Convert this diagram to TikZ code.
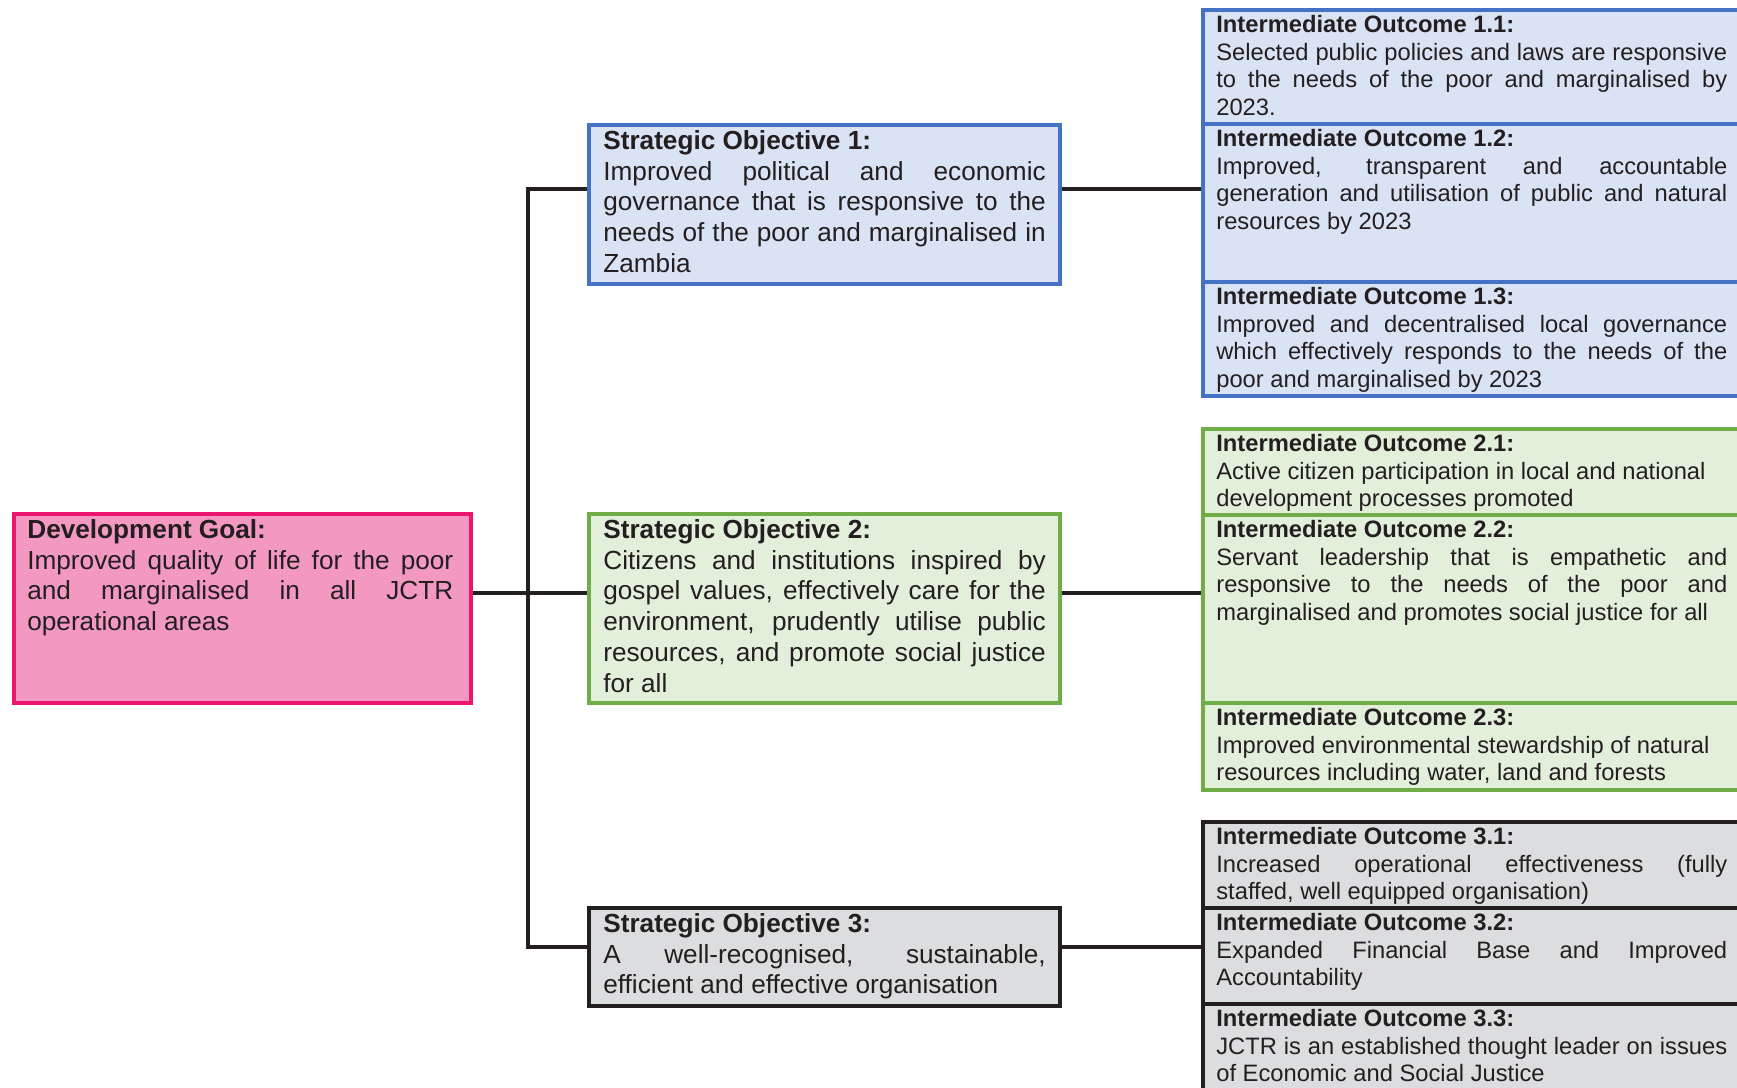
\documentclass[tikz,border=0pt]{standalone}
\usepackage{fontspec}
\setmainfont{Liberation Sans}
\setlength{\parindent}{0pt}
\hyphenpenalty=10000
\exhyphenpenalty=10000
\tolerance=10000
\hbadness=10000
\emergencystretch=3em

\definecolor{ink}{RGB}{35,31,32}
\definecolor{goalL}{RGB}{236,22,110}
\definecolor{goalF}{RGB}{243,152,192}
\definecolor{blueL}{RGB}{68,114,196}
\definecolor{blueF}{RGB}{218,227,243}
\definecolor{greenL}{RGB}{112,173,71}
\definecolor{greenF}{RGB}{226,239,218}
\definecolor{greyL}{RGB}{35,31,32}
\definecolor{greyF}{RGB}{220,221,223}

\tikzstyle{box} = [draw, rectangle, inner sep=0pt, anchor=north west, line width=2.1pt]
\tikzstyle{link} = [draw, ink, line width=2.1pt]
\tikzstyle{big text} = [anchor=north west, inner sep=0pt, align=justify, text=ink, font=\fontsize{14.9}{17.5}\selectfont]
\tikzstyle{small text} = [anchor=north west, inner sep=0pt, align=justify, text=ink, text width=10.22cm, font=\fontsize{13.5}{15.75}\selectfont]

\begin{document}
\begin{tikzpicture}[x=0.02cm, y=-0.02cm]
	\useasboundingbox (0,0) rectangle (1737,1088);

	% First we draw the boxes
	\foreach \name/\col/\x/\y/\w/\h in {goal/goal/12/512/9.14/3.78, so1/blue/587/123/9.42/3.18,
		so2/green/587/512/9.42/3.78, so3/grey/587/906/9.42/1.96,
		io11/blue/1201/8/11.18/2.28, io12/blue/1201/122/11.18/3.16, io13/blue/1201/280/11.18/2.28,
		io21/green/1201/427/11.18/1.72, io22/green/1201/513/11.18/3.76, io23/green/1201/701/11.18/1.74,
		io31/grey/1201/820/11.18/1.72, io32/grey/1201/906/11.18/1.92, io33/grey/1201/1002/11.18/2.2}
	\node[box, draw=\col L, fill=\col F, minimum width=\w cm, minimum height=\h cm] (\name) at (\x,\y) {};

	% Then the trunk and the branches
	\coordinate (hub1) at (528,189);
	\coordinate (hub2) at (528,593);
	\coordinate (hub3) at (528,947);
	\path[link] (so1.west |- hub1) -- (hub1) -- (hub3) -- (so3.west |- hub3);
	\path[link] (goal.east |- hub2) -- (so2.west |- hub2);
	\foreach \i in {1,2,3}
	\path[link] (so\i.east |- hub\i) -- (io\i2.west |- hub\i);

	% Texts of goal and objectives
	\node[big text, text width=8.52cm] (goalt) at ([shift={(15,7)}]goal.north west)
		{\textbf{Development Goal:}\\Improved quality of life for the poor \linebreak and marginalised in all JCTR \linebreak operational areas};
	\node[big text, text width=8.85cm] (so1t) at ([shift={(16,7)}]so1.north west)
		{\textbf{Strategic Objective 1:}\\Improved political and economic \linebreak governance that is responsive to the \linebreak needs of the poor and marginalised in \linebreak Zambia};
	\node[big text, text width=8.85cm] (so2t) at ([shift={(16,7)}]so2.north west)
		{\textbf{Strategic Objective 2:}\\Citizens and institutions inspired by \linebreak gospel values, effectively care for the \linebreak environment, prudently utilise public \linebreak resources, and promote social justice \linebreak for all};
	\node[big text, text width=8.85cm] (so3t) at ([shift={(16,7)}]so3.north west)
		{\textbf{Strategic Objective 3:}\\A well-recognised, sustainable, \linebreak efficient and effective organisation};

	% Texts of the intermediate outcomes
	\foreach \name/\head/\body in {
		io11/1.1/{Selected public policies and laws are responsive \linebreak to the needs of the poor and marginalised by \linebreak 2023.},
		io12/1.2/{Improved, transparent and accountable \linebreak generation and utilisation of public and natural \linebreak resources by 2023},
		io13/1.3/{Improved and decentralised local governance \linebreak which effectively responds to the needs of the \linebreak poor and marginalised by 2023},
		io21/2.1/{Active citizen participation in local and national\newline development processes promoted},
		io22/2.2/{Servant leadership that is empathetic and \linebreak responsive to the needs of the poor and \linebreak \mbox{marginalised and promotes social justice for all}},
		io23/2.3/{Improved environmental stewardship of natural\newline resources including water, land and forests},
		io31/3.1/{Increased operational effectiveness (fully \linebreak staffed, well equipped organisation)},
		io32/3.2/{Expanded Financial Base and Improved \linebreak Accountability},
		io33/3.3/{JCTR is an established thought leader on issues \linebreak of Economic and Social Justice}}
	\node[small text] (\name t) at ([shift={(15,7)}]\name.north west) {\textbf{Intermediate Outcome \head:}\\\body};
\end{tikzpicture}
\end{document}
